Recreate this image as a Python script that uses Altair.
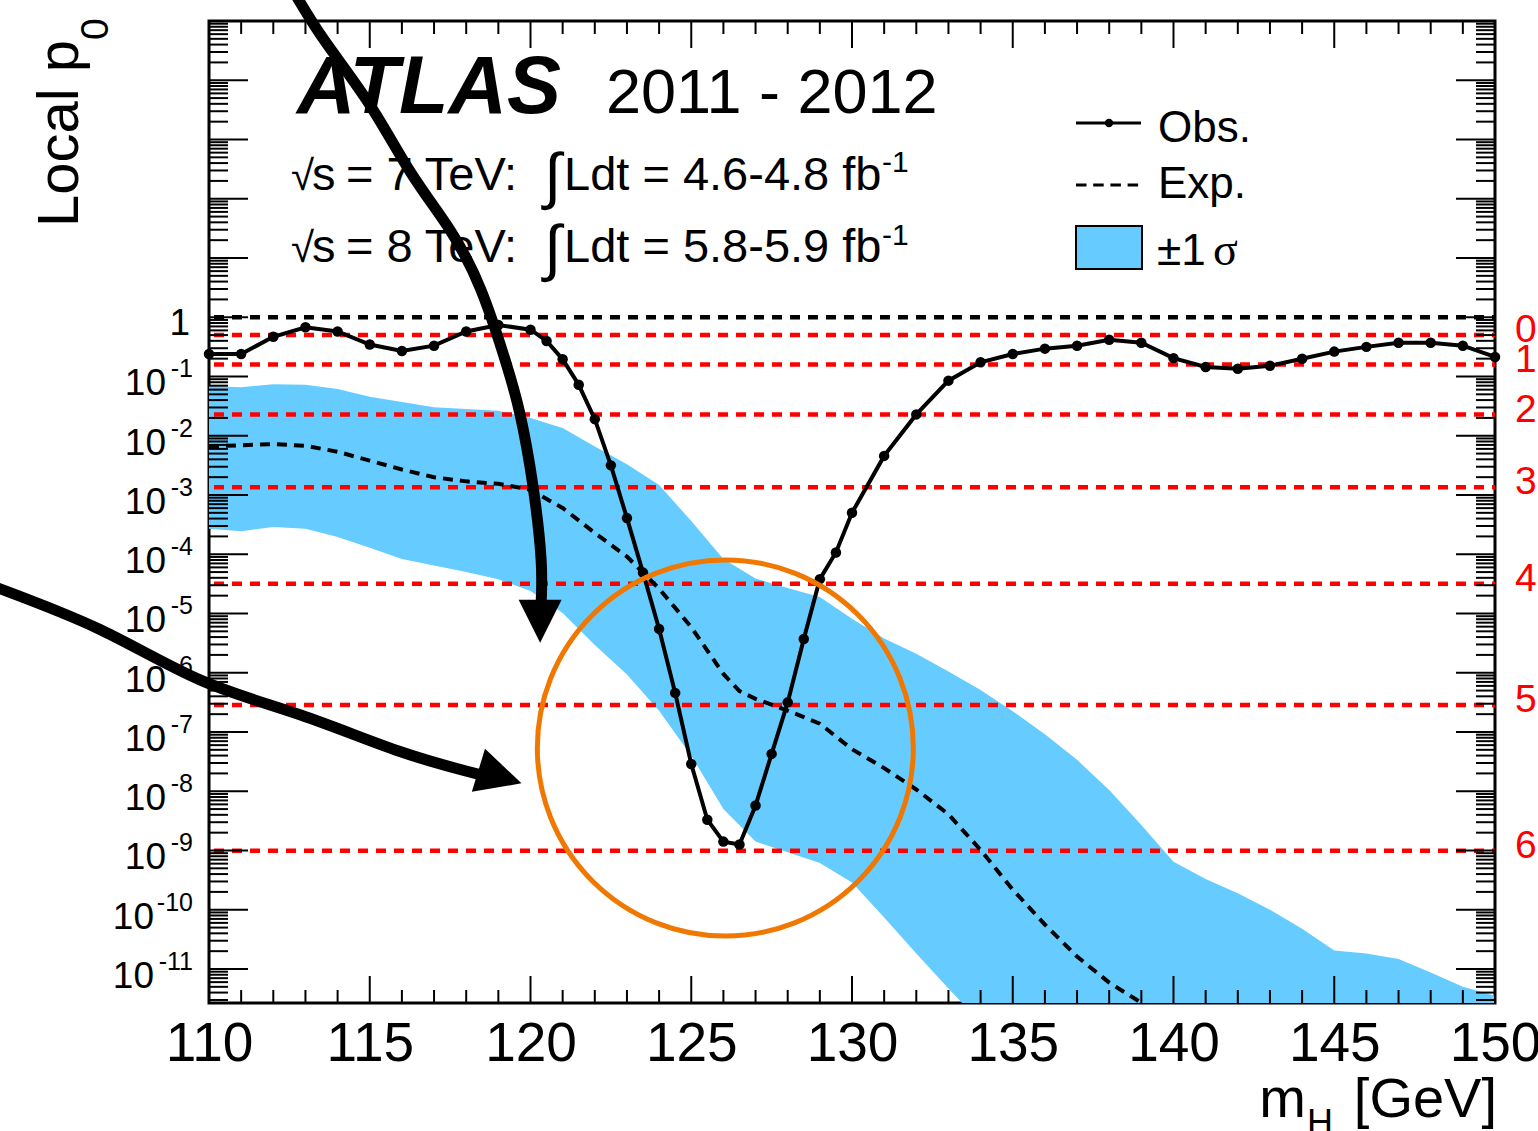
import altair as alt
import numpy as np
import pandas as pd

FONT = "Liberation Sans"
W, H = 1286, 982
Y_LO, Y_HI = 10 ** -11.574, 1e5

# ---------------- data ----------------
obs_mass = [110, 111, 112, 113, 114, 115, 116, 117, 118, 119,
            120, 120.5, 121, 121.5, 122, 122.5, 123, 123.5, 124, 124.5, 125,
            125.5, 126, 126.5, 127, 127.5, 128, 128.5, 129, 129.5, 130,
            131, 132, 133, 134, 135, 136, 137, 138, 139, 140,
            141, 142, 143, 144, 145, 146, 147, 148, 149, 150]
obs_log10p = [-0.62, -0.62, -0.33, -0.17, -0.24, -0.46, -0.57, -0.48, -0.24, -0.13,
              -0.21, -0.40, -0.71, -1.14, -1.72, -2.50, -3.39, -4.31, -5.26, -6.34, -7.54,
              -8.48, -8.85, -8.90, -8.24, -7.37, -6.50, -5.43, -4.42, -3.97, -3.30,
              -2.34, -1.64, -1.07, -0.76, -0.62, -0.53, -0.48, -0.38, -0.43, -0.69,
              -0.84, -0.87, -0.82, -0.70, -0.58, -0.50, -0.43, -0.43, -0.48, -0.67]

exp_mass = [110, 111, 112, 113, 114, 115, 116, 117, 118, 119, 120, 121, 122, 123, 124, 125, 126,
            126.5, 127, 128, 129, 130, 131, 132, 133, 134, 135, 136, 137, 138, 139, 140]
exp_log10p = [-2.18, -2.16, -2.14, -2.17, -2.27, -2.42, -2.57, -2.70, -2.77, -2.81, -2.91, -3.22,
              -3.64, -4.04, -4.58, -5.23, -6.02, -6.31, -6.44, -6.64, -6.86, -7.29, -7.61, -7.97,
              -8.39, -8.99, -9.66, -10.25, -10.79, -11.23, -11.57, -12.10]

band_mass = [110, 111, 112, 113, 114, 115, 116, 117, 118, 119,
             120, 121, 122, 123, 124, 125, 126, 127, 128, 129,
             130, 131, 132, 133, 134, 135, 136, 137, 138, 139,
             140, 141, 142, 143, 144, 145, 146, 147, 148, 149, 150]
band_hi_log10p = [-1.16, -1.18, -1.13, -1.14, -1.21, -1.34, -1.43, -1.52, -1.55, -1.58,
                  -1.70, -1.87, -2.18, -2.48, -2.83, -3.44, -4.08, -4.41, -4.57, -4.72,
                  -5.09, -5.42, -5.68, -5.98, -6.29, -6.65, -7.04, -7.47, -7.98, -8.57,
                  -9.19, -9.48, -9.72, -10.00, -10.32, -10.69, -10.74, -10.83, -11.06, -11.30, -11.45]
band_lo_log10p = [-3.57, -3.61, -3.54, -3.57, -3.71, -3.89, -4.08, -4.19, -4.30, -4.42,
                  -4.62, -4.99, -5.53, -6.03, -6.64, -7.40, -8.30, -8.85, -9.03, -9.21,
                  -9.54, -10.13, -10.74, -11.33, -11.90, -12.5, -13.1, -13.8, -14.4, -15.0,
                  -15.5, -16.1, -16.6, -17.2, -17.7, -18.3, -18.8, -19.3, -19.9, -20.4, -20.9]

sigma_p = [0.5, 0.1587, 0.02275, 0.00135, 3.167e-5, 2.867e-7, 9.866e-10]
sigma_labels = ["0σ", "1σ", "2σ", "3σ", "4σ", "5σ", "6σ"]

ytick_exps = ["-1", "-2", "-3", "-4", "-5", "-6", "-7", "-8", "-9", "-10", "-11"]
xtick_labels = [110, 115, 120, 125, 130, 135, 140, 145, 150]

# annotations drawn on the figure (in data coordinates)
circle_mass, circle_log10p = [126.06], [-7.27]
arrow1_mass = [112.61, 113.58, 115.01, 116.29, 117.50, 118.46, 119.21, 119.68, 120.08, 120.33, 120.33]
arrow1_log10p = [5.52, 4.68, 3.58, 2.43, 1.47, 0.46, -0.72, -1.65, -2.86, -4.09, -4.85]
arrow1_head = (120.30, -5.13)
arrow2_mass = [103.19, 106.61, 109.72, 112.83, 115.94, 118.43]
arrow2_log10p = [-4.52, -5.27, -6.12, -6.71, -7.33, -7.72]
arrow2_head = (119.05, -7.756)

# ---------------- tables ----------------
obs_df = pd.DataFrame({"mass": obs_mass, "p": 10 ** np.array(obs_log10p)})
exp_df = pd.DataFrame({"mass": exp_mass, "p": 10 ** np.array(exp_log10p)})
band_df = pd.DataFrame({"mass": band_mass, "hi": 10 ** np.array(band_hi_log10p),
                        "lo": 10 ** np.array(band_lo_log10p)})
sig_df = pd.DataFrame({"p": sigma_p, "lab": sigma_labels})
one_df = pd.DataFrame({"p": [1.0]})
lab_df = pd.DataFrame({"exp": ytick_exps, "p": [10.0 ** int(e) for e in ytick_exps]})
lab1_df = lab_df[lab_df["exp"].str.len() == 2]
lab2_df = lab_df[lab_df["exp"].str.len() == 3]
circ_df = pd.DataFrame({"mass": circle_mass, "p": 10 ** np.array(circle_log10p)})
a1_df = pd.DataFrame({"mass": arrow1_mass, "p": 10 ** np.array(arrow1_log10p), "i": range(len(arrow1_mass))})
a2_df = pd.DataFrame({"mass": arrow2_mass, "p": 10 ** np.array(arrow2_log10p), "i": range(len(arrow2_mass))})
h1_df = pd.DataFrame({"mass": [arrow1_head[0]], "p": [10 ** arrow1_head[1]]})
h2_df = pd.DataFrame({"mass": [arrow2_head[0]], "p": [10 ** arrow2_head[1]]})

y_major = pd.DataFrame({"v": [10.0 ** k for k in range(-11, 6)]})
y_minor = pd.DataFrame({"v": [m * 10.0 ** k for k in range(-12, 5) for m in range(2, 10)
                              if Y_LO <= m * 10.0 ** k <= Y_HI]})
x_major = pd.DataFrame({"m": list(range(110, 151, 5))})
x_minor = pd.DataFrame({"m": [m for m in range(111, 150) if m % 5]})
ONE = pd.DataFrame({"k": [0]})

# ---------------- scales / helpers ----------------
xs = alt.Scale(domain=[110, 150], nice=False, zero=False)
ys = alt.Scale(type="log", domain=[Y_LO, Y_HI], nice=False)
xaxis = alt.Axis(values=xtick_labels, labelFontSize=55, labelFont=FONT, labelColor="black",
                 domain=False, ticks=False, tickSize=0, grid=False, labelPadding=57,
                 labelBaseline="alphabetic", labelFlush=False, labelOverlap=False, title=None)


def X(f):
    return alt.X(f, type="quantitative", scale=xs, axis=xaxis, title=None)


def Y(f):
    return alt.Y(f, type="quantitative", scale=ys, axis=None, title=None)


def text(s, x, y, size, align="left", font=FONT, color="black", **kw):
    return alt.Chart(ONE).mark_text(text=s, font=font, fontSize=size, align=align,
                                    baseline="alphabetic", color=color, **kw).encode(
        x=alt.value(x), y=alt.value(y))


layers = []

# band
layers.append(alt.Chart(band_df).mark_area(color="#66CCFF", opacity=1, clip=True).encode(
    x=X("mass"), y=Y("lo"), y2=alt.Y2("hi")))

# reference lines
layers.append(alt.Chart(one_df).mark_rule(color="black", strokeWidth=4.5, strokeDash=[10, 8]).encode(
    y=Y("p"), x=alt.value(5), x2=alt.value(W)))
layers.append(alt.Chart(sig_df).mark_rule(color="#FF0000", strokeWidth=4.5, strokeDash=[10, 8]).encode(
    y=Y("p"), x=alt.value(5), x2=alt.value(W)))

# expected
layers.append(alt.Chart(exp_df).mark_line(color="black", strokeWidth=4, strokeDash=[10, 7], clip=True).encode(
    x=X("mass"), y=Y("p")))
# observed
layers.append(alt.Chart(obs_df).mark_line(color="black", strokeWidth=4, clip=True).encode(
    x=X("mass"), y=Y("p")))
layers.append(alt.Chart(obs_df).mark_point(color="black", filled=True, size=110, opacity=1).encode(
    x=X("mass"), y=Y("p")))

# ticks (inside, all four sides)
for df, ln in ((y_major, 39), (y_minor, 19)):
    layers.append(alt.Chart(df).mark_rule(color="black", strokeWidth=2).encode(
        y=Y("v"), x=alt.value(0), x2=alt.value(ln)))
    layers.append(alt.Chart(df).mark_rule(color="black", strokeWidth=2).encode(
        y=Y("v"), x=alt.value(W - ln), x2=alt.value(W)))
for df, ln in ((x_major, 27), (x_minor, 13)):
    layers.append(alt.Chart(df).mark_rule(color="black", strokeWidth=2).encode(
        x=X("m"), y=alt.value(H - ln), y2=alt.value(H)))
    layers.append(alt.Chart(df).mark_rule(color="black", strokeWidth=2).encode(
        x=X("m"), y=alt.value(0), y2=alt.value(ln)))

# y tick labels
layers.append(alt.Chart(one_df).mark_text(text="1", font=FONT, fontSize=37, align="right",
                                          baseline="alphabetic", dy=18).encode(
    y=Y("p"), x=alt.value(-19)))
layers.append(alt.Chart(lab1_df).mark_text(text="10", font=FONT, fontSize=37, align="right",
                                           baseline="alphabetic", dy=19).encode(
    y=Y("p"), x=alt.value(-43)))
layers.append(alt.Chart(lab2_df).mark_text(text="10", font=FONT, fontSize=37, align="right",
                                           baseline="alphabetic", dy=19).encode(
    y=Y("p"), x=alt.value(-55)))
layers.append(alt.Chart(lab_df).mark_text(font=FONT, fontSize=25, align="right",
                                          baseline="alphabetic", dy=1).encode(
    y=Y("p"), x=alt.value(-16), text="exp:N"))

# sigma labels at right
layers.append(alt.Chart(sig_df).mark_text(font=FONT, fontSize=39, align="left", baseline="middle",
                                          color="#FF0000", dy=-5).encode(
    y=Y("p"), x=alt.value(W + 20), text="lab:N"))

# axis titles
layers.append(text("Local p", -131, 206, 58, angle=270))
layers.append(text("0", -101, 19, 39, angle=270))
layers.append(text("m", 1097, 1096, 56, align="right"))
layers.append(text("H", 1098, 1114, 36))
layers.append(text("[GeV]", 1288, 1096, 56, align="right"))

# ATLAS labels
layers.append(text("ATLAS", 88, 92, 81, fontStyle="italic", fontWeight="bold"))
layers.append(text("2011 - 2012", 397, 92, 63))
for base, energy, lumi, sup in ((169, "7", "4.6-4.8", 151), (241, "8", "5.8-5.9", 224)):
    layers.append(text("√", 82, base, 42))
    layers.append(text("s", 103, base, 47))
    layers.append(text("= " + energy + " TeV:", 137, base, 47))
    layers.append(text("∫", 335, base + 7, 62))
    layers.append(text("Ldt = " + lumi + " fb", 355, base, 47))
    layers.append(text("-1", 673, sup, 30))

# legend
layers.append(alt.Chart(ONE).mark_rule(color="black", strokeWidth=3).encode(
    x=alt.value(867), x2=alt.value(932), y=alt.value(102)))
layers.append(alt.Chart(ONE).mark_point(color="black", filled=True, size=70, opacity=1).encode(
    x=alt.value(900), y=alt.value(102)))
layers.append(text("Obs.", 949, 121, 44))
layers.append(alt.Chart(ONE).mark_rule(color="black", strokeWidth=3, strokeDash=[10.5, 6.7]).encode(
    x=alt.value(867), x2=alt.value(932), y=alt.value(164)))
layers.append(text("Exp.", 949, 177, 44))
layers.append(alt.Chart(ONE).mark_rect(fill="#66CCFF", stroke="black", strokeWidth=2).encode(
    x=alt.value(867), x2=alt.value(933), y=alt.value(205), y2=alt.value(248)))
layers.append(text("±1", 948, 244, 44))
layers.append(text("σ", 1004, 244, 46, font="Liberation Serif"))

# annotations: circle and arrows
layers.append(alt.Chart(circ_df).mark_point(shape="circle", size=376 ** 2, filled=False,
                                            stroke="#F07800", strokeWidth=5, opacity=1).encode(
    x=X("mass"), y=Y("p")))
for adf in (a1_df, a2_df):
    layers.append(alt.Chart(adf).mark_line(color="black", strokeWidth=11, interpolate="natural").encode(
        x=X("mass"), y=Y("p"), order="i:Q"))
layers.append(alt.Chart(h1_df).mark_point(shape="M-1,-1L1,-1L0,1Z", size=43 ** 2, filled=True,
                                          color="black", opacity=1).encode(x=X("mass"), y=Y("p")))
layers.append(alt.Chart(h2_df).mark_point(shape="M-1,-1L1,0L-1,1Z", size=45 ** 2, filled=True,
                                          angle=17, color="black", opacity=1).encode(x=X("mass"), y=Y("p")))

chart = alt.layer(*layers).properties(
    width=W, height=H,
    autosize=alt.AutoSizeParams(type="none"),
    padding={"left": 209, "top": 21, "right": 43, "bottom": 128},
    background="white",
).configure_view(stroke="black", strokeWidth=3)

chart.save("out.html", embed_options={"renderer": "svg", "actions": False})
